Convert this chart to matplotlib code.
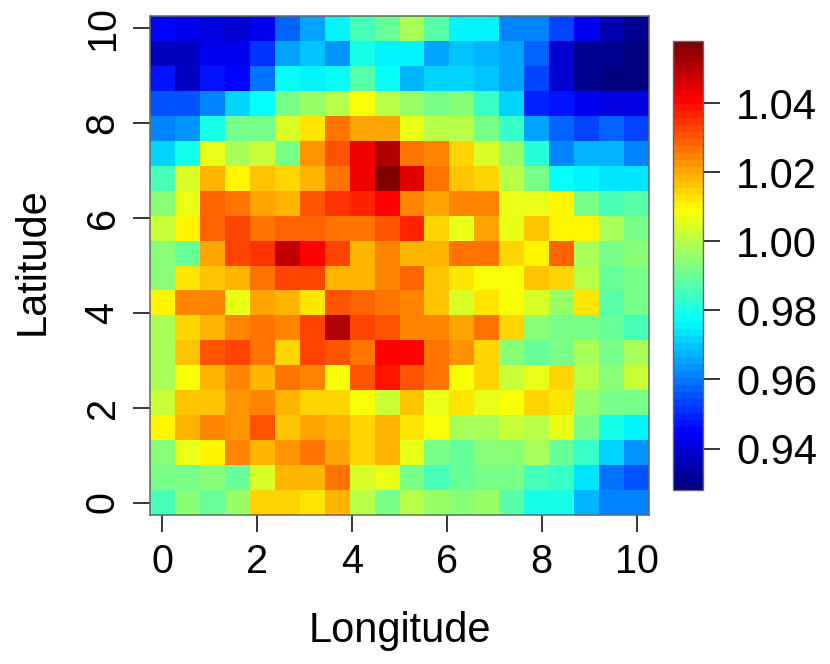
import numpy as np
import matplotlib
matplotlib.use("Agg")
import matplotlib.pyplot as plt
from matplotlib.colors import LinearSegmentedColormap

# 20 x 20 grid, rows listed from the top of the map (latitude 10) down to latitude 0
lon = np.linspace(0, 10, 20)
lat = np.linspace(10, 0, 20)
ratio = [
    [.945, .944, .941, .940, .943, .957, .965, .976, .986, .990, .998, .988, .976, .976, .962, .962, .953, .943, .936, .931],
    [.937, .937, .943, .944, .951, .965, .970, .964, .979, .975, .976, .965, .970, .968, .966, .958, .939, .932, .931, .930],
    [.947, .937, .947, .945, .959, .977, .975, .977, .988, .977, .968, .972, .971, .970, .966, .954, .939, .932, .930, .928],
    [.955, .955, .962, .972, .978, .993, .996, 1.001, 1.009, 1.001, .996, .991, .995, .983, .971, .949, .947, .943, .941, .942],
    [.962, .964, .979, .991, .993, 1.004, 1.012, 1.027, 1.021, 1.021, 1.006, 1.001, 1.001, .993, .983, .966, .957, .954, .957, .954],
    [.972, .979, 1.007, .999, 1.003, .993, 1.023, 1.030, 1.043, 1.050, 1.0255, 1.024, 1.014, 1.004, .996, .981, .962, .967, .967, .962],
    [.986, 1.005, 1.019, 1.011, 1.016, 1.015, 1.019, 1.0255, 1.0418, 1.058, 1.044, 1.0255, 1.016, 1.014, 1.001, .991, .977, .975, .973, .973],
    [.995, 1.007, 1.028, 1.0255, 1.021, 1.0174, 1.030, 1.035, 1.037, 1.040, 1.024, 1.021, 1.024, 1.025, 1.007, 1.006, 1.011, .991, .985, .987],
    [1.003, 1.011, 1.028, 1.0336, 1.027, 1.028, 1.028, 1.0255, 1.0255, 1.030, 1.036, 1.014, 1.006, 1.021, 1.006, 1.016, 1.011, 1.011, .998, .991],
    [.995, .989, 1.021, 1.032, 1.035, 1.048, 1.040, 1.033, 1.0174, 1.024, 1.019, 1.0174, 1.0255, 1.026, 1.014, 1.010, 1.028, .999, .993, .995],
    [.995, 1.012, 1.017, 1.019, 1.026, 1.0336, 1.032, 1.019, 1.019, 1.024, 1.028, 1.016, 1.013, 1.009, 1.009, 1.016, 1.014, 1.001, .990, .993],
    [1.011, 1.024, 1.024, 1.007, 1.021, 1.0174, 1.013, 1.030, 1.028, 1.026, 1.025, 1.016, 1.004, 1.012, 1.009, 1.004, .997, 1.012, .987, .993],
    [.999, 1.014, 1.019, 1.024, 1.026, 1.024, 1.032, 1.050, 1.0336, 1.030, 1.024, 1.025, 1.021, 1.026, 1.014, .994, .991, .993, .989, .986],
    [.999, 1.016, 1.030, 1.0336, 1.026, 1.015, 1.032, 1.030, 1.0255, 1.040, 1.0405, 1.026, 1.022, 1.014, .994, .990, .993, .999, .993, .999],
    [.999, 1.009, 1.018, 1.024, 1.019, 1.0255, 1.025, 1.009, 1.030, 1.038, 1.031, 1.026, 1.009, 1.015, 1.003, 1.007, 1.015, 1.000, .994, 1.003],
    [1.003, 1.016, 1.016, 1.022, 1.024, 1.019, 1.015, 1.015, 1.009, 1.003, 1.016, 1.006, 1.013, 1.007, 1.009, 1.014, 1.013, .997, .993, .993],
    [1.011, 1.0174, 1.024, 1.022, 1.031, 1.016, 1.020, 1.0174, 1.015, 1.019, 1.013, 1.009, .998, .999, 1.003, 1.001, 1.006, .991, .980, .975],
    [.995, 1.007, 1.011, 1.024, 1.019, 1.023, 1.0255, 1.021, 1.015, 1.0174, 1.006, .993, .990, .995, .995, .998, .990, .983, .971, .964],
    [.991, .991, .995, .990, 1.004, 1.0174, 1.019, 1.026, 1.004, 1.007, .991, .985, .990, .993, .991, .985, .983, .973, .9605, .956],
    [.986, .995, .990, .996, 1.014, 1.015, 1.013, 1.018, 1.001, .991, 1.000, .997, .995, .997, .988, .980, .980, .967, .962, .962],
]
axis_ticks = [0, 2, 4, 6, 8, 10]
bar_ticks = [0.94, 0.96, 0.98, 1.00, 1.02, 1.04]
bar_labels = ["0.94", "0.96", "0.98", "1.00", "1.02", "1.04"]

plt.rcParams['font.family'] = ['Liberation Sans', 'DejaVu Sans']
W, H = 830, 664
fig = plt.figure(figsize=(W / 100, H / 100), dpi=100)
ax = fig.add_axes([150 / W, 1 - 515 / H, 499 / W, 499 / H])
cax = fig.add_axes([673 / W, 1 - 490 / H, 30 / W, 449 / H])

# same stops as the fields package tim.colors palette
tim = LinearSegmentedColormap.from_list('tim', [
    (0, (0, 0, .5)), (.125, (0, 0, 1)), (.375, (0, 1, 1)),
    (.625, (1, 1, 0)), (.875, (1, 0, 0)), (1, (.5, 0, 0))], N=64)

mesh = ax.pcolormesh(lon, lat, np.array(ratio), cmap=tim,
                     vmin=0.928, vmax=1.058, shading='nearest')
ax.set_xlim(-0.263, 10.263)
ax.set_ylim(-0.263, 10.263)
ax.set_xticks(axis_ticks)
ax.set_yticks(axis_ticks)
ax.tick_params(axis='both', labelsize=28.5, length=12, width=1.1, pad=8.5)
plt.setp(ax.get_yticklabels(), rotation=90, va='center')
ax.set_xlabel('Longitude', fontsize=30, labelpad=21)
ax.set_ylabel('Latitude', fontsize=30, labelpad=22)
ax.yaxis.label.set_y(0.508)
for s in ax.spines.values():
    s.set_linewidth(1.1)
    s.set_color('#666666')

cb = fig.colorbar(mesh, cax=cax, ticks=bar_ticks, drawedges=False)
cb.ax.set_yticklabels(bar_labels)
cb.ax.tick_params(labelsize=30, length=12.5, width=1.1, pad=11.5)
cb.outline.set_linewidth(1.0)
cb.outline.set_edgecolor('#666666')

fig.savefig('out.png', dpi=100)
